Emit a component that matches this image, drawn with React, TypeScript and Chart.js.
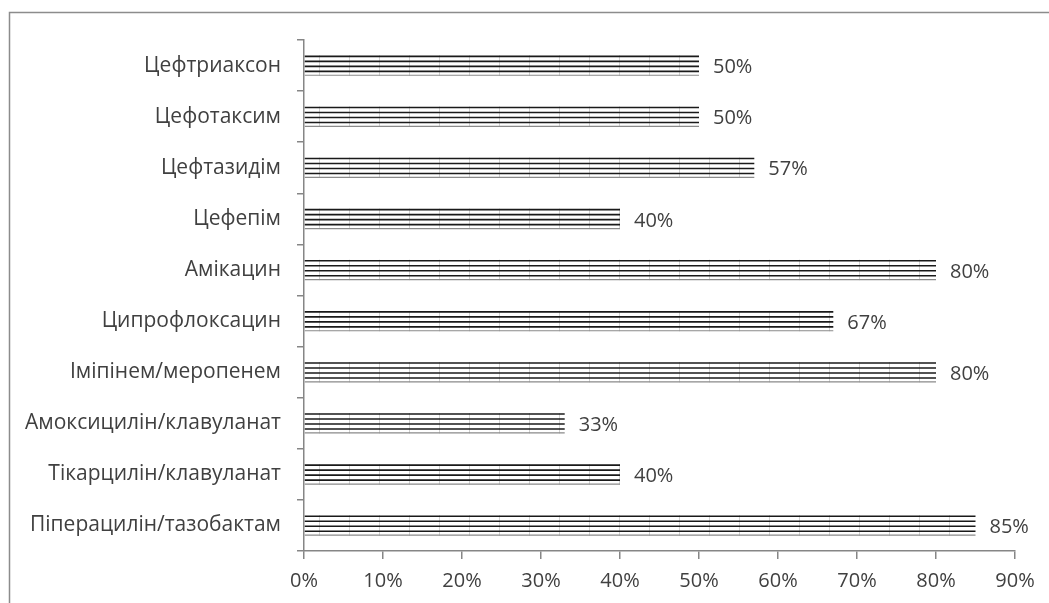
import React, { useEffect, useRef } from "react";
import { Chart, registerables } from "chart.js";

Chart.register(...registerables);

const categories = [
  "Цефтриаксон",
  "Цефотаксим",
  "Цефтазидім",
  "Цефепім",
  "Амікацин",
  "Ципрофлоксацин",
  "Іміпінем/меропенем",
  "Амоксицилін/клавуланат",
  "Тікарцилін/клавуланат",
  "Піперацилін/тазобактам",
];

const values = [50, 50, 57, 40, 80, 67, 80, 33, 40, 85];

const xTicks = [0, 10, 20, 30, 40, 50, 60, 70, 80, 90];

const FONT = "'Open Sans', sans-serif";
const TEXT = "#404040";
const AXIS = "#868686";

const framePlugin = {
  id: "frame",
  beforeDraw(chart: any) {
    const ctx = chart.ctx;
    ctx.save();
    ctx.strokeStyle = "#8c8c8c";
    ctx.lineWidth = 1.5;
    ctx.beginPath();
    ctx.moveTo(9.5, chart.height + 5);
    ctx.lineTo(9.5, 12.5);
    ctx.lineTo(chart.width + 5, 12.5);
    ctx.stroke();
    ctx.restore();
  },
};

const barPatternPlugin = {
  id: "barPattern",
  afterDatasetsDraw(chart: any) {
    const ctx = chart.ctx;
    const meta = chart.getDatasetMeta(0);
    ctx.save();
    meta.data.forEach((bar: any, i: number) => {
      const { x, y, base, height } = bar.getProps(["x", "y", "base", "height"], true);
      const top = y - height / 2;
      const bottom = y + height / 2;
      // vertical light dashes
      ctx.strokeStyle = "rgba(150,150,150,0.45)";
      ctx.lineWidth = 1;
      for (let vx = base + 14; vx < x; vx += 30) {
        ctx.beginPath();
        ctx.moveTo(Math.round(vx) + 0.5, top);
        ctx.lineTo(Math.round(vx) + 0.5, bottom);
        ctx.stroke();
      }
      // horizontal dark lines
      ctx.strokeStyle = "#1a1a1a";
      ctx.lineWidth = 1.6;
      for (let k = 0; k < 4; k++) {
        const ly = top + 1 + k * 5;
        ctx.beginPath();
        ctx.moveTo(base, ly);
        ctx.lineTo(x, ly);
        ctx.stroke();
      }
      ctx.strokeStyle = "#8a8a8a";
      ctx.lineWidth = 1.2;
      ctx.beginPath();
      ctx.moveTo(base, bottom - 0.5);
      ctx.lineTo(x, bottom - 0.5);
      ctx.stroke();
      // data label
      ctx.fillStyle = TEXT;
      ctx.font = `20px ${FONT}`;
      ctx.textAlign = "left";
      ctx.textBaseline = "middle";
      ctx.fillText(values[i] + "%", x + 14, y + 2);
    });
    ctx.restore();
  },
};

export default function App() {
  const ref = useRef<HTMLCanvasElement | null>(null);

  useEffect(() => {
    document.body.style.margin = "0";
    const canvas = ref.current;
    if (!canvas) return;
    const chart = new Chart(canvas, {
      type: "bar",
      data: {
        labels: categories,
        datasets: [
          {
            data: values,
            backgroundColor: "rgba(255,255,255,0)",
            borderWidth: 0,
            barPercentage: 0.4,
            categoryPercentage: 1,
          },
        ],
      },
      options: {
        indexAxis: "y",
        animation: false,
        responsive: false,
        maintainAspectRatio: false,
        devicePixelRatio: 1,
        layout: { padding: { top: 40, right: 34, left: 0, bottom: 0 } },
        plugins: {
          legend: { display: false },
          tooltip: { enabled: false },
        },
        scales: {
          x: {
            type: "linear",
            min: 0,
            max: 90,
            afterBuildTicks(scale: any) {
              scale.ticks = xTicks.map((v) => ({ value: v }));
            },
            afterFit(scale: any) {
              scale.height = 52;
            },
            ticks: {
              color: TEXT,
              font: { family: FONT, size: 20 },
              padding: 10,
              callback: (v: any) => v + "%",
              maxRotation: 0,
            },
            grid: {
              display: true,
              drawOnChartArea: false,
              drawTicks: true,
              tickLength: 8,
              color: AXIS,
              lineWidth: 1.5,
            },
            border: { display: true, color: AXIS, width: 1.5 },
          },
          y: {
            type: "category",
            afterFit(scale: any) {
              scale.width = 304;
            },
            ticks: {
              color: TEXT,
              font: { family: FONT, size: 21, lineHeight: 1.0 },
              padding: 16,
            },
            grid: {
              display: true,
              offset: true,
              drawOnChartArea: false,
              drawTicks: true,
              tickLength: 7,
              color: AXIS,
              lineWidth: 1.5,
            },
            border: { display: true, color: AXIS, width: 1.5 },
          },
        },
      },
      plugins: [framePlugin, barPatternPlugin],
    });
    return () => chart.destroy();
  }, []);

  return (
    <div style={{ position: "fixed", left: 0, top: 0, width: 1049, height: 603, background: "#fff" }}>
      <canvas ref={ref} width={1049} height={603} style={{ width: 1049, height: 603 }} />
    </div>
  );
}
